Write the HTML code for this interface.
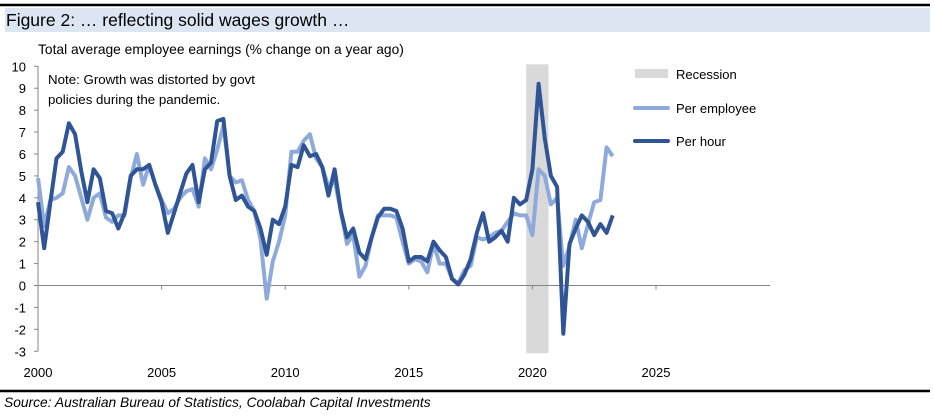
<!DOCTYPE html>
<html><head><meta charset="utf-8"><style>
body{margin:0;background:#fff;font-family:"Liberation Sans",sans-serif;}
#wrap{position:relative;width:934px;height:418px;overflow:hidden;}
</style></head><body>
<div id="wrap">
<svg id="chart" width="934" height="418" xmlns="http://www.w3.org/2000/svg">
<line x1="0" y1="5" x2="930" y2="5" stroke="#000" stroke-width="2.5"/>
<rect x="5" y="8" width="925" height="24" fill="#dce6f2"/>
<text x="6" y="26" font-size="17.5" fill="#000">Figure 2:  … reflecting solid wages growth …</text>
<text x="38" y="54" font-size="13.8" fill="#000">Total average employee earnings (% change on a year ago)</text>
<text x="48" y="84" font-size="13.3" fill="#000">Note: Growth was distorted by govt</text>
<text x="48" y="104" font-size="13.3" fill="#000">policies during the pandemic.</text>
<g id="recess"></g>
<g id="axes"></g>
<g id="series"></g>
<g>
<rect x="635" y="69" width="33" height="9" fill="#d9d9d9"/>
<text x="676" y="79" font-size="13">Recession</text>
<line x1="635" y1="108" x2="668" y2="108" stroke="#8eaadb" stroke-width="4" stroke-linecap="round"/>
<text x="676" y="113" font-size="13">Per employee</text>
<line x1="635" y1="141" x2="668" y2="141" stroke="#2f5597" stroke-width="4" stroke-linecap="round"/>
<text x="676" y="146" font-size="13">Per hour</text>
</g>
<line x1="0" y1="391" x2="930" y2="391" stroke="#000" stroke-width="2.5"/>
<text x="4" y="407" font-size="13.8" font-style="italic">Source: Australian Bureau of Statistics, Coolabah Capital Investments</text>
</svg>
</div>
<script>
const perEmployee=[4.9,2.7,3.9,4.0,4.2,5.4,5.0,4.0,3.0,4.0,4.2,3.1,2.9,3.2,3.2,4.9,6.0,4.6,5.5,4.6,3.9,3.3,3.5,4.0,4.3,4.4,3.6,5.8,5.3,6.2,7.3,5.0,4.7,4.8,3.9,3.4,2.1,-0.6,1.1,2.0,3.2,6.1,6.1,6.6,6.9,5.8,5.4,4.5,4.8,3.4,1.9,2.3,0.4,0.9,2.2,3.2,3.2,3.2,3.1,2.0,1.0,1.2,1.1,0.6,1.9,1.0,1.0,0.3,0.1,0.7,0.9,2.2,2.1,2.2,2.4,2.5,2.9,3.3,3.2,3.2,2.3,5.3,5.0,3.7,4.0,0.9,1.8,3.0,1.7,2.8,3.8,3.9,6.3,5.9];
const perHour=[3.8,1.7,3.8,5.8,6.1,7.4,6.9,5.2,3.8,5.3,4.9,3.4,3.3,2.6,3.3,5.0,5.3,5.3,5.5,4.6,3.8,2.4,3.3,4.2,5.1,5.5,3.8,5.3,5.6,7.5,7.6,5.0,3.9,4.1,3.6,3.4,2.6,1.4,3.0,2.8,3.6,5.5,5.4,6.4,5.9,6.0,5.4,4.1,5.3,3.4,2.2,2.6,1.5,1.2,2.2,3.1,3.5,3.5,3.4,2.6,1.1,1.3,1.3,1.1,2.0,1.6,1.3,0.3,0.05,0.5,1.2,2.4,3.3,2.0,2.2,2.5,2.0,4.0,3.7,3.9,5.3,9.2,6.7,5.0,4.5,-2.2,1.9,2.6,3.2,2.9,2.3,2.8,2.4,3.2];
const startYear=2000;
const yTicks=[10,9,8,7,6,5,4,3,2,1,0,-1,-2,-3];
const xTicks=[2000,2005,2010,2015,2020,2025];
const recession=[2019.75,2020.65];
const NS='http://www.w3.org/2000/svg';
const xS=t=>38+(t-2000)*24.72;
const yS=v=>285.5-v*21.92;
function mk(tag,attrs,parent){const e=document.createElementNS(NS,tag);for(const k in attrs)e.setAttribute(k,attrs[k]);parent.appendChild(e);return e;}
const rg=document.getElementById('recess'),ax=document.getElementById('axes'),sg=document.getElementById('series');
const rb=mk('rect',{x:xS(recession[0]),y:yS(10)-2,width:xS(recession[1])-xS(recession[0]),height:yS(-3)-yS(10)+4,fill:'#d9d9d9'},rg);


const ya=mk('line',{x1:38,y1:yS(10),x2:38,y2:yS(-3),stroke:'#868686','stroke-width':1},ax);


yTicks.forEach(v=>{
 const t=mk('line',{x1:34,y1:yS(v),x2:38,y2:yS(v),stroke:'#868686'},ax);
 
 
 const l=mk('text',{x:26,y:yS(v)+5,'font-size':13,'text-anchor':'end'},ax);l.textContent=v;
 
 
});
const xa=mk('line',{x1:38,y1:yS(0),x2:770,y2:yS(0),stroke:'#868686'},ax);


xTicks.forEach(v=>{
 const t=mk('line',{x1:xS(v),y1:yS(0),x2:xS(v),y2:yS(0)+4,stroke:'#868686'},ax);
 
 
 const l=mk('text',{x:xS(v),y:377,'font-size':13,'text-anchor':'middle'},ax);l.textContent=v;
 
 
});
function line(arr,color,name){
 const d=arr.map((v,i)=>(i?'L':'M')+xS(startYear+i/4).toFixed(1)+','+yS(v).toFixed(1)).join('');
 const p=mk('path',{d:d,fill:'none',stroke:color,'stroke-width':4,'stroke-linejoin':'round'},sg);
 
 
}
line(perEmployee,'#8eaadb','per-employee-line');
line(perHour,'#2f5597','per-hour-line');
</script>
</body></html>
